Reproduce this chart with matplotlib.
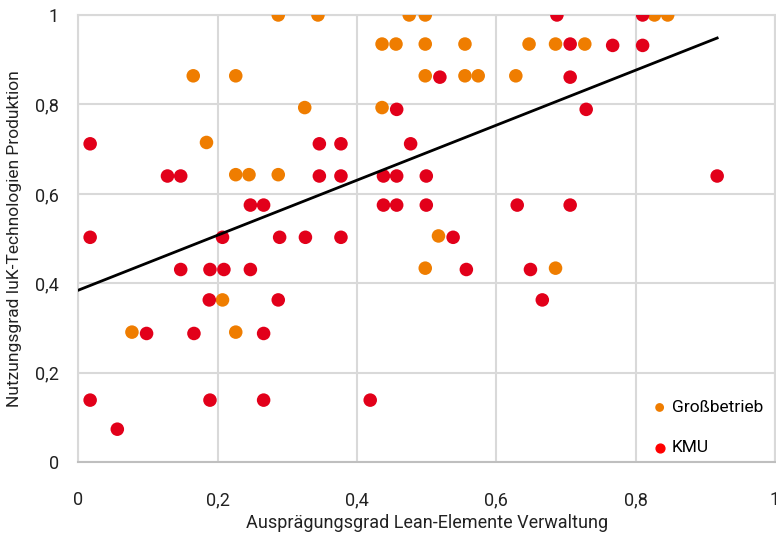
import numpy as np
import matplotlib
matplotlib.use("Agg")
import matplotlib.pyplot as plt
from matplotlib.ticker import FuncFormatter

plt.rcParams['font.family'] = ['Roboto', 'DejaVu Sans']

# Großbetrieb
gross_x = [0.287, 0.344, 0.475, 0.498, 0.827, 0.846,
           0.436, 0.456, 0.498, 0.555, 0.647, 0.685, 0.727,
           0.165, 0.226, 0.498, 0.555, 0.574, 0.628,
           0.325, 0.436, 0.184, 0.226, 0.245, 0.287,
           0.517, 0.498, 0.685, 0.207, 0.077, 0.226]
gross_y = [1.0, 1.0, 1.0, 1.0, 1.0, 1.0,
           0.935, 0.935, 0.935, 0.935, 0.935, 0.935, 0.935,
           0.864, 0.864, 0.864, 0.864, 0.864, 0.864,
           0.793, 0.793, 0.715, 0.643, 0.643, 0.643,
           0.506, 0.434, 0.434, 0.363, 0.291, 0.291]

# KMU
kmu_x = [0.687, 0.810, 0.706, 0.767, 0.810, 0.519, 0.706, 0.457, 0.729,
         0.017, 0.346, 0.377, 0.477,
         0.128, 0.147, 0.346, 0.377, 0.438, 0.457, 0.4995, 0.917,
         0.247, 0.266, 0.438, 0.457, 0.4995, 0.630, 0.706,
         0.017, 0.207, 0.289, 0.326, 0.377, 0.538,
         0.147, 0.189, 0.209, 0.247, 0.557, 0.649,
         0.188, 0.287, 0.666,
         0.098, 0.166, 0.266,
         0.017, 0.189, 0.266, 0.419, 0.056]
kmu_y = [1.0, 1.0, 0.935, 0.932, 0.932, 0.861, 0.861, 0.789, 0.789,
         0.712, 0.712, 0.712, 0.712,
         0.640, 0.640, 0.640, 0.640, 0.640, 0.640, 0.640, 0.640,
         0.575, 0.575, 0.575, 0.575, 0.575, 0.575, 0.575,
         0.503, 0.503, 0.503, 0.503, 0.503, 0.503,
         0.431, 0.431, 0.431, 0.431, 0.431, 0.431,
         0.363, 0.363, 0.363,
         0.288, 0.288, 0.288,
         0.139, 0.139, 0.139, 0.139, 0.074]

ticks = [0, 0.2, 0.4, 0.6, 0.8, 1]
x_label = "Ausprägungsgrad Lean-Elemente Verwaltung"
y_label = "Nutzungsgrad IuK-Technologien Produktion"

orange = "#EF7D00"
red = "#E2001A"

fig = plt.figure(figsize=(7.76, 5.35), dpi=100)
ax = fig.add_axes([0.1009, 0.1359, 0.8978, 0.8361])

ax.scatter(gross_x, gross_y, s=95, color=orange, edgecolors='none', zorder=3, label="Großbetrieb")
ax.scatter(kmu_x, kmu_y, s=95, color=red, edgecolors='none', zorder=3, label="KMU")

all_x = np.array(gross_x + kmu_x)
all_y = np.array(gross_y + kmu_y)
m, b = np.polyfit(all_x, all_y, 1)
xs = np.array([0.0, all_x.max()])
ax.plot(xs, m * xs + b, color='black', lw=2, zorder=4)

ax.set_xlim(0, 1)
ax.set_ylim(0, 1)
ax.set_xticks(ticks)
ax.set_yticks(ticks)
fmt = FuncFormatter(lambda v, p: ("%g" % v).replace('.', ','))
ax.xaxis.set_major_formatter(fmt)
ax.yaxis.set_major_formatter(fmt)
ax.tick_params(length=0, labelsize=13, colors='#222222')
ax.tick_params(axis='x', pad=21)
ax.tick_params(axis='y', pad=14)
ax.grid(True, color='#D9D9D9', lw=1.5, zorder=0)
ax.set_axisbelow(True)
for s in ax.spines.values():
    s.set_color('#D9D9D9')
    s.set_linewidth(1.5)
ax.spines['bottom'].set_color('#BFBFBF')

ax.set_xlabel(x_label, fontsize=13, labelpad=3, color='#222222')
ax.set_ylabel(y_label, fontsize=12.5, labelpad=9, color='#222222')

leg = ax.legend(loc='lower left', frameon=False, fontsize=12.5, markerscale=0.65,
                handlelength=1.0, handletextpad=0.2, labelspacing=1.45,
                borderaxespad=0.0, bbox_to_anchor=(0.812, 0.0))
leg.legend_handles[1].set_color('#FF0000')

fig.savefig("out.png", dpi=100)
